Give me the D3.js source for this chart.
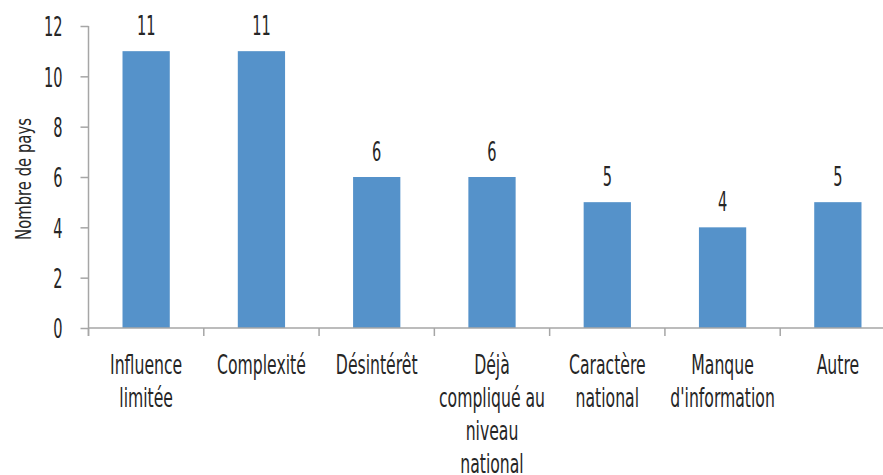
<!DOCTYPE html>
<html>
<head>
<meta charset="utf-8">
<script src="https://cdn.jsdelivr.net/npm/d3@7"></script>
<style>
  body { margin: 0; background: #fff; }
  text { font-family: "Liberation Sans Narrow", "DejaVu Sans Condensed", sans-serif; fill: #262626; }
</style>
</head>
<body>
<svg id="chart" width="883" height="475"></svg>
<script>
// Reasons given, number of countries for each
const categories = ["Influence\nlimitée", "Complexité", "Désintérêt", "Déjà\ncompliqué au\nniveau\nnational", "Caractère\nnational", "Manque\nd'information", "Autre"];
const values = [11, 11, 6, 6, 5, 4, 5];
const yTicks = [0, 2, 4, 6, 8, 10, 12];
const yTitle = "Nombre de pays";

const svg = d3.select("#chart");
const axisColor = "#a6a6a6";
const barColor = "#5592ca";
const sxText = 0.67;  // horizontal squeeze for words
const sxNum = 0.60;   // horizontal squeeze for digits
const sxTitle = 0.75;

const x = d3.scaleBand().domain(categories).range([88.5, 895.5]).paddingInner(0.59).paddingOuter(0.295);
const y = d3.scaleLinear().domain([0, 12]).range([328, 26]);

// bars
svg.append("g").selectAll("rect").data(values).join("rect")
  .attr("x", (d, i) => x(categories[i]))
  .attr("width", x.bandwidth())
  .attr("y", d => y(d))
  .attr("height", d => y(0) - y(d))
  .attr("fill", barColor);

// y axis
const gy = svg.append("g").attr("transform", "translate(88.5,0)")
  .call(d3.axisLeft(y).tickValues(yTicks).tickSize(8).tickSizeOuter(0));
gy.select(".domain").attr("stroke", axisColor).attr("stroke-width", 1.5).attr("d", `M0,${y(12)}V${y(0) + 8}`);
gy.selectAll(".tick line").attr("stroke", axisColor).attr("stroke-width", 1.5);
gy.selectAll(".tick text")
  .attr("x", null).attr("dy", "0.36em")
  .attr("transform", `translate(-26,0) scale(${sxNum},1)`)
  .style("font-size", "27px").style("font-family", null).attr("fill", "#262626");

// x baseline and boundary ticks
const step = x.step();
const x0 = x.range()[0];
svg.append("line").attr("x1", x0).attr("x2", 883).attr("y1", y(0)).attr("y2", y(0))
  .attr("stroke", axisColor).attr("stroke-width", 1.5);
svg.append("g").selectAll("line").data(d3.range(categories.length + 1)).join("line")
  .attr("x1", i => x0 + i * step).attr("x2", i => x0 + i * step)
  .attr("y1", y(0)).attr("y2", y(0) + 8)
  .attr("stroke", axisColor).attr("stroke-width", 1.5);

// category labels
const cat = svg.append("g").selectAll("g").data(categories).join("g")
  .attr("transform", d => `translate(${x(d) + x.bandwidth() / 2},374) scale(${sxText},1)`);
cat.each(function(d) {
  d3.select(this).selectAll("text").data(d.split("\n")).join("text")
    .attr("text-anchor", "middle")
    .attr("y", (l, k) => k * 33)
    .style("font-size", "26px")
    .text(l => l);
});

// value labels
svg.append("g").selectAll("text").data(values).join("text")
  .attr("text-anchor", "middle")
  .attr("transform", (d, i) => `translate(${x(categories[i]) + x.bandwidth() / 2},${y(d) - 16}) scale(${sxNum},1)`)
  .style("font-size", "27px")
  .text(d => d);

// y title
svg.append("text")
  .attr("text-anchor", "middle")
  .attr("transform", `translate(31,179) rotate(-90) scale(${sxTitle},1)`)
  .style("font-size", "22px")
  .text(yTitle);
</script>
</body>
</html>
